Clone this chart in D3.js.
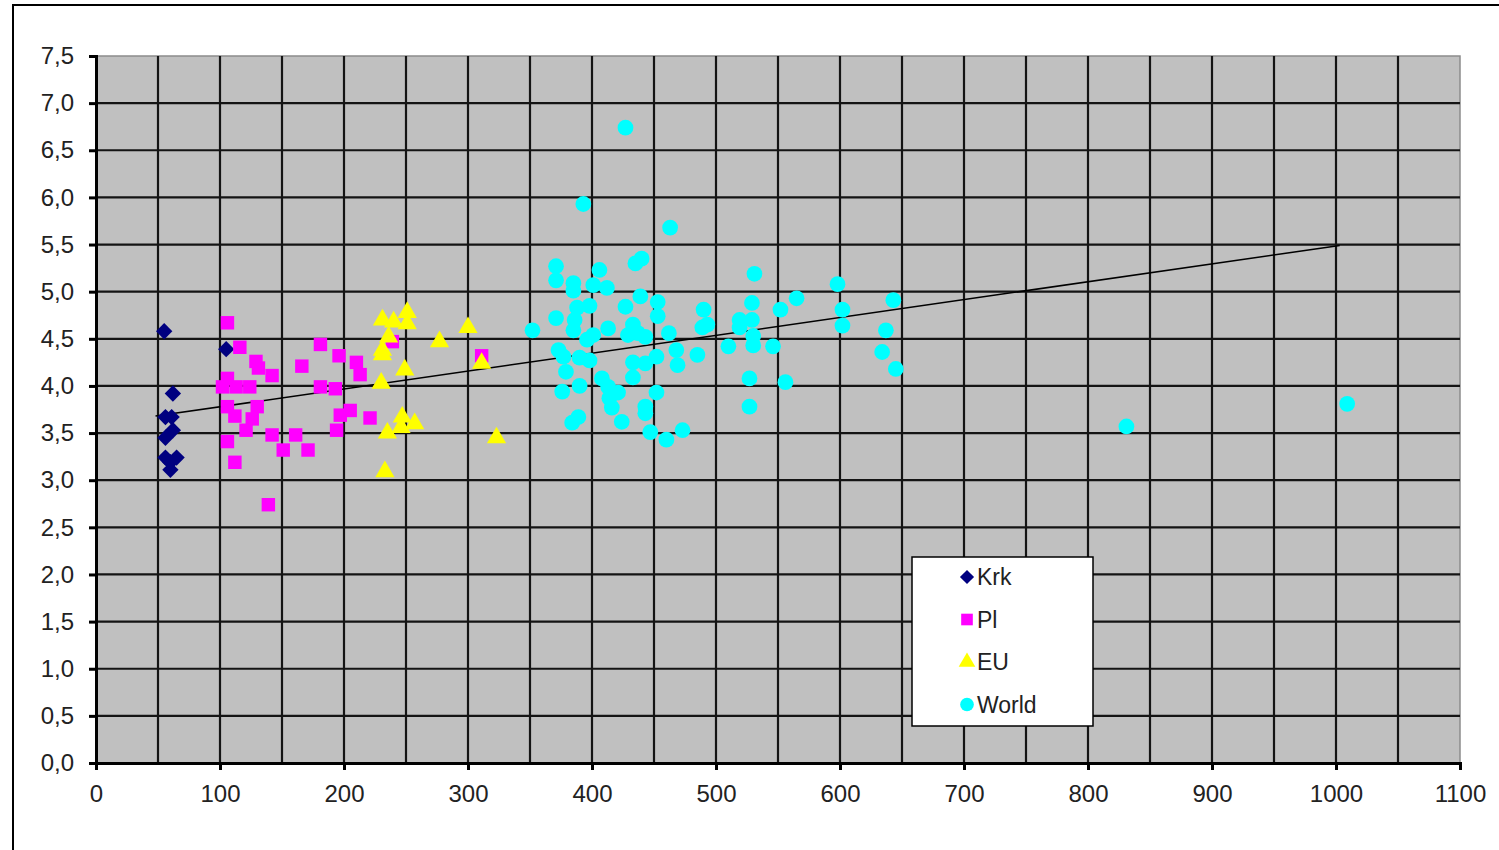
<!DOCTYPE html>
<html>
<head>
<meta charset="utf-8">
<script src="https://cdn.jsdelivr.net/npm/d3@7"></script>
<style>
  body { margin: 0; background: #fff; }
  svg { display: block; font-family: "Liberation Sans", Arial, sans-serif; }
</style>
</head>
<body>
<svg width="1499" height="850"></svg>
<script>
// data
const krkX = [55, 105, 62, 56, 61, 62, 56, 56, 65, 60, 60];
const krkY = [4.58, 4.39, 3.92, 3.67, 3.67, 3.53, 3.45, 3.24, 3.24, 3.11, 3.19];

const plX = [106, 116, 129, 131, 142, 166, 181, 196, 210, 213, 106, 102, 113, 124, 181, 193, 106, 112,
  130, 126, 121, 142, 161, 151, 171, 106, 112, 139, 194, 197, 205, 221, 239, 311];
const plY = [4.67, 4.41, 4.26, 4.19, 4.11, 4.21, 4.44, 4.32, 4.25, 4.12, 4.08, 3.99, 3.99, 3.99, 3.99, 3.97, 3.78, 3.68,
  3.78, 3.65, 3.53, 3.48, 3.48, 3.32, 3.32, 3.41, 3.19, 2.74, 3.53, 3.69, 3.74, 3.66, 4.47, 4.32];

const euX = [231, 240, 251, 251, 236, 231, 231, 277, 300, 311, 249, 230, 247, 257, 246, 235, 323, 233];
const euY = [4.70, 4.68, 4.78, 4.66, 4.52, 4.38, 4.33, 4.47, 4.62, 4.24, 4.17, 4.03, 3.67, 3.60, 3.56, 3.50, 3.45, 3.09];

const worldX = [427, 393, 463, 371, 371, 406, 385, 385, 401, 412, 435, 440, 439, 427, 453, 453, 398, 388, 371, 386,
  385, 352, 413, 433, 437, 429, 443, 462, 401, 396, 373, 377, 390, 398, 468, 469, 485, 490, 489, 493,
  433, 443, 452, 379, 433, 408, 413, 376, 390, 421, 414, 416, 452, 443, 443, 424, 384, 389, 447, 460, 473,
  531, 598, 643, 565, 552, 529, 529, 519, 519, 602, 602, 530, 530, 546, 510, 637, 634, 645, 527, 556, 527,
  831, 1009];
const worldY = [6.74, 5.93, 5.68, 5.27, 5.12, 5.23, 5.09, 5.01, 5.07, 5.04, 5.30, 5.35, 4.95, 4.84, 4.89, 4.74, 4.85, 4.83, 4.72, 4.70,
  4.59, 4.59, 4.61, 4.65, 4.56, 4.54, 4.52, 4.56, 4.54, 4.49, 4.38, 4.31, 4.30, 4.27, 4.38, 4.22, 4.33, 4.81, 4.62, 4.65,
  4.25, 4.24, 4.31, 4.15, 4.09, 4.08, 3.99, 3.94, 4.00, 3.93, 3.87, 3.77, 3.93, 3.78, 3.71, 3.62, 3.61, 3.67, 3.51, 3.43, 3.53,
  5.19, 5.08, 4.91, 4.93, 4.81, 4.88, 4.70, 4.70, 4.62, 4.81, 4.64, 4.53, 4.43, 4.42, 4.42, 4.59, 4.36, 4.18, 4.08, 4.04, 3.78,
  3.57, 3.81];

// linear trend line ends
const trendX = [48, 1003];
const trendY = [3.68, 5.49];

const xTicks = [0, 100, 200, 300, 400, 500, 600, 700, 800, 900, 1000, 1100];
const xGrid = d3.range(0, 1101, 50);
const yTicks = [0, 0.5, 1, 1.5, 2, 2.5, 3, 3.5, 4, 4.5, 5, 5.5, 6, 6.5, 7, 7.5];

const seriesNames = ["Krk", "Pl", "EU", "World"];

const svg = d3.select("svg");

// ramka wykresu
svg.append("path")
    .attr("d", "M13,850 L13,5 L1499,5")
    .attr("fill", "none")
    .attr("stroke", "#000")
    .attr("stroke-width", 2);

const x = d3.scaleLinear().domain([0, 1100]).range([96, 1460]);
const y = d3.scaleLinear().domain([0, 7.5]).range([763, 56]);

// tło
svg.append("rect")
    .attr("x", x(0)).attr("y", y(7.5))
    .attr("width", x(1100) - x(0))
    .attr("height", y(0) - y(7.5))
    .attr("fill", "#c0c0c0")
    .attr("stroke", "#8c8c8c")
    .attr("stroke-width", 1.5);

// siatka
const grid = svg.append("g").attr("stroke", "#141414").attr("stroke-width", 2.2);
grid.selectAll("line.v")
    .data(xGrid.slice(1, -1))
    .enter().append("line")
    .attr("x1", d => x(d)).attr("x2", d => x(d))
    .attr("y1", y(7.5)).attr("y2", y(0));
grid.selectAll("line.h")
    .data(yTicks.slice(1, -1))
    .enter().append("line")
    .attr("x1", x(0)).attr("x2", x(1100))
    .attr("y1", d => y(d)).attr("y2", d => y(d));

// osie
const fmtY = v => d3.format(".1f")(v).replace(".", ",");

const xAxis = svg.append("g")
    .attr("transform", `translate(0,${y(0)})`)
    .call(d3.axisBottom(x).tickValues(xTicks).tickFormat(d3.format("d")).tickSize(7).tickSizeOuter(7).tickPadding(15));
const yAxis = svg.append("g")
    .attr("transform", `translate(${x(0)},0)`)
    .call(d3.axisLeft(y).tickValues(yTicks).tickFormat(fmtY).tickSize(7).tickSizeOuter(7).tickPadding(15));

[xAxis, yAxis].forEach(a => {
    a.select(".domain").attr("stroke", "#000").attr("stroke-width", 3);
    a.selectAll(".tick line").attr("stroke", "#000").attr("stroke-width", 3);
    a.selectAll(".tick text")
        .attr("fill", "#222")
        .attr("font-size", "24px")
        .attr("font-family", "'Liberation Sans', Arial, sans-serif");
});

// linia trendu
svg.append("line")
    .attr("x1", x(trendX[0])).attr("y1", y(trendY[0]))
    .attr("x2", x(trendX[1])).attr("y2", y(trendY[1]))
    .attr("stroke", "#000")
    .attr("stroke-width", 1.5);

// punkty
const series = [
    { xs: krkX, ys: krkY, color: "#000080", symbol: d3.symbolDiamond2, size: 170 },
    { xs: plX, ys: plY, color: "#ff00ff", symbol: d3.symbolSquare2, size: 230 },
    { xs: euX, ys: euY, color: "#ffff00", symbol: d3.symbolTriangle, size: 160 },
    { xs: worldX, ys: worldY, color: "#00ffff", symbol: d3.symbolCircle, size: 195 }
];

series.forEach(s => {
    const sym = d3.symbol().type(s.symbol).size(s.size);
    svg.append("g")
        .selectAll("path")
        .data(s.xs.map((v, i) => [v, s.ys[i]]))
        .enter().append("path")
        .attr("d", sym)
        .attr("transform", d => `translate(${x(d[0])},${y(d[1])})`)
        .attr("fill", s.color);
});

// legenda
const legend = svg.append("g").attr("transform", "translate(912,557)");
legend.append("rect")
    .attr("width", 181).attr("height", 169)
    .attr("fill", "#fff")
    .attr("stroke", "#000")
    .attr("stroke-width", 1.5);

const item = legend.selectAll("g.item")
    .data(series)
    .enter().append("g")
    .attr("transform", (d, i) => `translate(55,${20 + i * 42.5})`);
item.append("path")
    .attr("d", d => d3.symbol().type(d.symbol).size(d.size * 0.75)())
    .attr("fill", d => d.color);
item.append("text")
    .attr("x", 10)
    .attr("dy", "0.36em")
    .attr("font-size", "23px")
    .attr("fill", "#222")
    .text((d, i) => seriesNames[i]);
</script>
</body>
</html>
